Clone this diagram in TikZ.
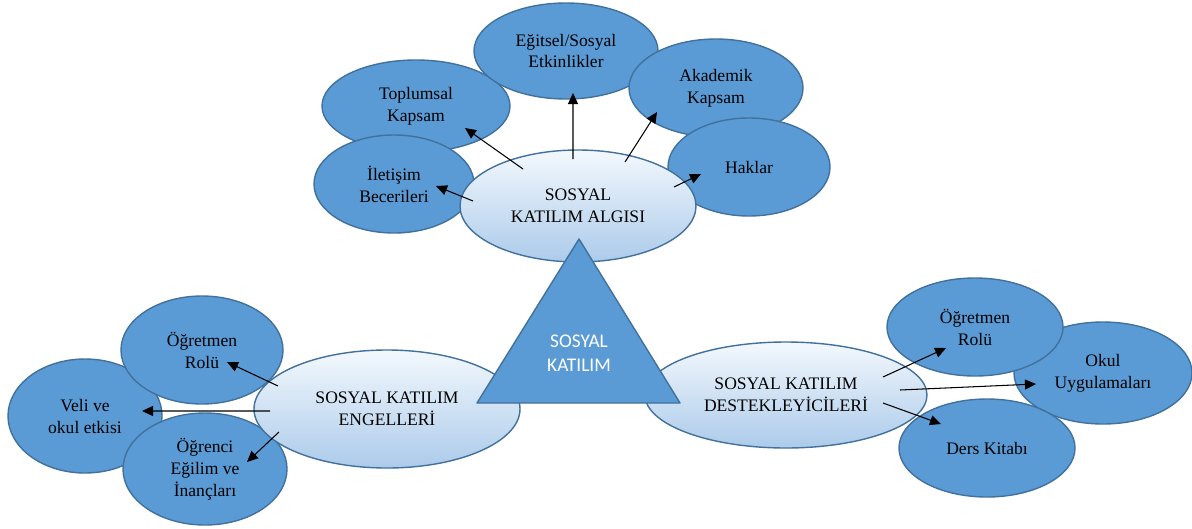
\documentclass[tikz,border=0pt]{standalone}
\usepackage{fontspec}
\setmainfont{Liberation Serif}
\newfontfamily\trifont{Carlito}
\usetikzlibrary{shapes.geometric,arrows.meta,calc}
\definecolor{topicBlue}{RGB}{91,155,213}
\definecolor{edgeBlue}{RGB}{65,113,156}
\definecolor{paleTop}{RGB}{243,248,253}
\definecolor{paleBottom}{RGB}{172,203,234}

\begin{document}
\begin{tikzpicture}[
        topic/.style={ellipse,fill=topicBlue,draw=edgeBlue,line width=0.8pt,inner sep=0pt,
                     align=center,font=\fontsize{10}{12.5}\selectfont},
        hub/.style={ellipse,top color=paleTop,bottom color=paleBottom,draw=edgeBlue,line width=0.8pt,
                     inner sep=0pt,align=center,font=\fontsize{10}{12.5}\selectfont},
        link/.style={-{Triangle[length=2.2mm,width=2mm]},line width=0.6pt,black}
    ]
        \fill[white] (0,0) rectangle (23.84,-10.56);
        \useasboundingbox (0,0) rectangle (23.84,-10.56);

        % Perception
        \node[topic,minimum width=3.76cm,minimum height=1.84cm] (toplum) at (8.32,-2.12) {Toplumsal\\Kapsam};
        \node[topic,minimum width=3.68cm,minimum height=1.92cm] (egitsel) at (11.32,-1.02) {Eğitsel/Sosyal\\Etkinlikler};
        \node[topic,minimum width=3.48cm,minimum height=1.96cm] (akadem) at (14.32,-1.76) {Akademik\\Kapsam};
        \node[topic,minimum width=3.20cm,minimum height=1.96cm] (iletis) at (7.88,-3.68) {İletişim\\Becerileri};
        \node[topic,minimum width=3.24cm,minimum height=1.96cm] (haklar) at (14.98,-3.34) {Haklar};
        \node[hub,minimum width=4.72cm,minimum height=2.24cm] (algi) at (11.56,-4.12) {SOSYAL\\KATILIM ALGISI};

        % Barriers
        \node[topic,minimum width=3.08cm,minimum height=2.28cm] (veli) at (1.70,-8.32) {Veli ve\\okul etkisi};
        \node[topic,minimum width=3.24cm,minimum height=2.16cm] (ogretL) at (4.04,-7.00) {Öğretmen\\Rolü};
        \node[topic,minimum width=3.28cm,minimum height=2.24cm] (ogrenc) at (4.10,-9.38) {Öğrenci\\Eğilim ve\\İnançları};
        \node[hub,minimum width=5.32cm,minimum height=2.36cm] (engel) at (7.74,-8.18) {SOSYAL KATILIM\\ENGELLERİ};

        % Supporters
        \node[hub,minimum width=5.64cm,minimum height=2.12cm] (destek) at (15.72,-7.90) {SOSYAL KATILIM\\DESTEKLEYİCİLERİ};
        \node[topic,minimum width=3.56cm,minimum height=2.04cm] (okul) at (22.06,-7.46) {Okul\\Uygulamaları};
        \node[topic,minimum width=3.52cm,minimum height=1.96cm] (ogretR) at (19.50,-6.54) {Öğretmen\\Rolü};
        \node[topic,minimum width=3.52cm,minimum height=1.96cm] (ders) at (19.74,-8.96) {Ders Kitabı};

        % Centre triangle
        \draw[fill=topicBlue,draw=edgeBlue,line width=0.8pt,line join=round]
            (11.58,-4.78) -- (13.60,-8.06) -- (9.54,-8.06) -- cycle;
        \node[text=white,align=center,font=\trifont\fontsize{11}{13.5}\selectfont] (katilim) at (11.58,-7.06) {SOSYAL\\KATILIM};

        % Arrows
        \draw[link] ([shift={(-0.10,0.94)}]algi.center) -- ([shift={(0.14,-0.84)}]egitsel.center);
        \draw[link] ([shift={(-1.10,0.74)}]algi.center) -- ([shift={(0.98,-0.44)}]toplum.center);
        \draw[link] ([shift={(0.94,0.88)}]algi.center) -- ([shift={(-1.18,-0.48)}]akadem.center);
        \draw[link] ([shift={(-2.10,0.10)}]algi.center) -- ([shift={(0.84,-0.04)}]iletis.center);
        \draw[link] ([shift={(1.92,0.38)}]algi.center) -- ([shift={(-0.96,-0.14)}]haklar.center);

        \draw[link] ([shift={(-2.18,0.46)}]engel.center) -- ([shift={(0.50,-0.24)}]ogretL.center);
        \draw[link] ([shift={(-2.34,-0.04)}]engel.center) -- ([shift={(1.14,0.10)}]veli.center);
        \draw[link] ([shift={(-2.16,-0.46)}]engel.center) -- ([shift={(0.84,0.14)}]ogrenc.center);

        \draw[link] ([shift={(1.94,0.36)}]destek.center) -- ([shift={(-0.58,-0.42)}]ogretR.center);
        \draw[link] ([shift={(2.28,0.10)}]destek.center) -- ([shift={(-1.34,-0.22)}]okul.center);
        \draw[link] ([shift={(1.94,-0.16)}]destek.center) -- ([shift={(-0.92,0.48)}]ders.center);

    \end{tikzpicture}
\end{document}
